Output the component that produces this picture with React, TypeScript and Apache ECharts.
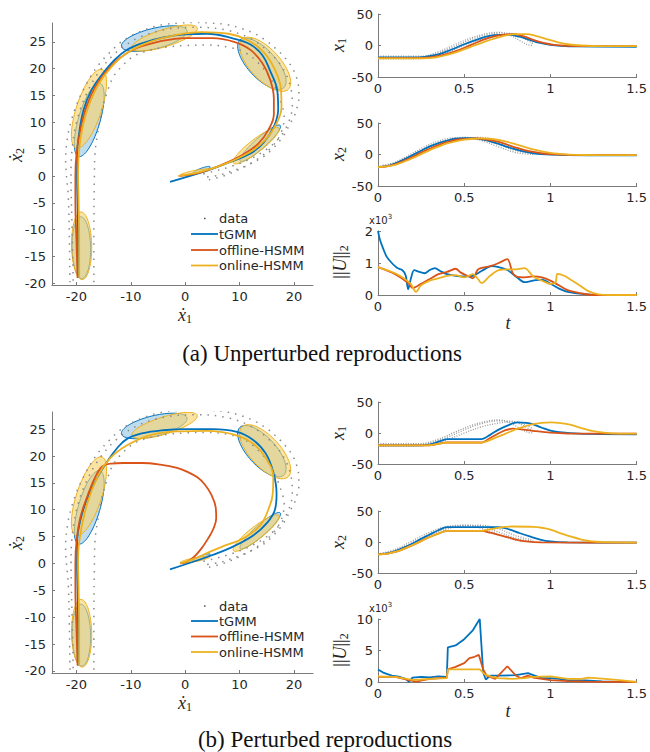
import React, { useEffect, useRef } from "react";
import * as echarts from "echarts";

// ---------------- Data ----------------
// Ellipses (GMM components): [cx, cy, semiMajor, semiMinor, angleDeg]
const ellipsesTGMM: number[][] = [
  [-19.1, -13.35, 5.75, 1.7, 91],
  [-17.65, 10.45, 7.1, 2.0, 74],
  [-5.7, 25.6, 6.2, 1.9, 14],
  [14.1, 20.9, 6.0, 2.6, -48],
  [13.8, 6.1, 4.95, 1.0, 42],
  [3.0, 1.1, 1.7, 0.35, 21],
];
const ellipsesHSMM: number[][] = [
  [-19.05, -13.0, 6.3, 1.85, 91],
  [-17.7, 12.5, 7.7, 2.3, 72],
  [-3.8, 25.7, 6.3, 1.6, 17.5],
  [14.7, 20.8, 6.3, 2.8, -48],
  [13.05, 5.65, 5.3, 1.2, 38],
  [1.85, 0.7, 2.8, 0.35, 11],
];

// Demonstrations (velocity space)
const demoOuter2D: number[][] = [
  [-21.2, -19.8], [-21.3, -12], [-21.5, -4], [-22.0, 3], [-21.6, 7.5], [-20.9, 10.5], [-19.9, 13.5],
  [-18.7, 16.1], [-17.3, 18.7], [-15.7, 21], [-13.9, 23], [-12, 24.8], [-10.2, 26], [-8.3, 26.9],
  [-5.8, 27.8], [-3.4, 28.3], [-1, 28.5], [1.5, 28.6], [4.5, 28.5], [7.7, 28.2], [10.3, 27.5],
  [12.6, 26.6], [14.9, 25.2], [16.9, 23.5], [18.6, 21.7], [19.9, 19.8], [20.6, 17.9], [20.9, 16.1],
  [20.9, 14.5], [20.6, 12.9], [20.1, 11.3], [19.3, 9.8], [18.5, 8.2], [17.5, 6.7], [16.1, 5.1],
  [14.4, 3.6], [12.6, 2.6], [10.7, 1.7], [8.5, 0.9], [6.4, 0.2], [4, -0.2],
];
const demoMid2D: number[][] = [
  [-20.6, -19.5], [-20.8, -10], [-21, 0], [-20.8, 5], [-20, 10], [-18.3, 15], [-15.8, 19.5],
  [-12.5, 23.2], [-8.5, 25.8], [-3.5, 27.3], [2, 27.7], [7.5, 27.2], [12, 25.6], [15.5, 23],
  [18, 20], [19.4, 16.5], [19.7, 13], [19, 10], [17.4, 7.2], [15, 5], [12, 3.2], [8.5, 1.8],
  [5, 0.8], [2.5, 0.2],
];
const demoInner2D: number[][] = [
  [-16.8, -19.8], [-16.8, -10], [-16.7, 0], [-16.6, 4.2], [-16.1, 8], [-15.3, 12.3], [-14.4, 15.5],
  [-13.2, 18.5], [-11.5, 20.6], [-9.5, 22.3], [-7, 23.3], [-3.5, 24], [0, 24.3], [4, 24.4], [8, 24],
  [11, 23], [13.5, 21], [15.8, 18], [17.5, 14], [18.2, 11], [17.6, 8], [16, 5.5], [13.5, 3.3],
  [10.5, 1.5], [7, 0], [4, -0.8],
];

// Reproductions, unperturbed (a)
const tgmmA2D: number[][] = [
  [-19.7, -19], [-19.7, -12], [-19.8, -5], [-19.9, 0], [-19.9, 3.6], [-19.6, 7.3], [-18.7, 12.3],
  [-17.2, 16.1], [-15.3, 18.9], [-12.9, 21.7], [-10.7, 23.5], [-8, 24.7], [-4, 25.8], [0, 26.4],
  [4, 26.5], [8.9, 25.6], [12, 24.5], [14.2, 22.5], [15.7, 19.4], [16.9, 16.1], [17.1, 12.5],
  [16.3, 9.2], [14.4, 6.2], [12, 4.2], [7.7, 2.4], [3.4, 0.8], [-2.8, -1.1],
];
const offlineA2D: number[][] = [
  [-19.8, -19], [-20, -12], [-20.2, -5], [-20.2, 0], [-20, 4], [-19.3, 8.5], [-18.2, 12.8],
  [-16.6, 16.5], [-14.5, 19.5], [-12, 22], [-9, 23.8], [-5, 25], [0, 25.7], [5, 25.7], [9, 25],
  [12, 23.5], [14.2, 21], [15.6, 18], [16.3, 14.5], [16.3, 11.5], [15.3, 8.6], [13.4, 6],
  [10.5, 3.9], [6.5, 2], [2.5, 0.6], [-1.2, 0],
];
const onlineA2D: number[][] = [
  [-19.5, -19], [-19.5, -12], [-19.6, -5], [-19.7, 0], [-19.5, 5], [-18.8, 9.5], [-17.6, 13.5],
  [-15.9, 17.2], [-13.6, 20.3], [-10.6, 23], [-6.5, 25], [-2, 26.2], [3, 26.8], [8, 26.5],
  [11.5, 25.3], [14.5, 23], [16.5, 19.8], [17.6, 16.2], [17.7, 12.8], [16.7, 9.6], [14.8, 6.8],
  [12, 4.5], [7.5, 2.3], [3, 0.8], [-1.2, 0],
];

// Reproductions, perturbed (b)
const tgmmB2D: number[][] = [
  [-19.7, -19], [-19.7, -12], [-19.8, -5], [-19.9, 0], [-19.9, 3.6], [-19.3, 8], [-17.8, 12.7],
  [-16, 16.3], [-14.4, 18.9], [-12.5, 21.5], [-10.7, 23.2], [-8, 24.2], [-4, 24.8], [0, 25],
  [5, 25], [9.5, 24.5], [12.5, 23], [14.8, 20.5], [16.2, 17], [16.8, 13], [16.5, 10], [15, 7.5],
  [12.5, 5.2], [8.5, 3], [4, 1.2], [-2.8, -1.1],
];
const offlineB2D: number[][] = [
  [-19.8, -19], [-20, -12], [-20.2, -5], [-20.2, 0], [-20, 4], [-19.3, 8.5], [-18, 12.5],
  [-16.5, 16.2], [-15.2, 18.1], [-13.5, 18.6], [-11.4, 18.7], [-8, 18.7], [-4.6, 18.4],
  [-1.5, 17.8], [0.5, 17], [2.3, 16], [3.6, 14.7], [4.8, 12.8], [5.6, 10.5], [5.7, 8.4],
  [5.2, 6.5], [4.3, 4.8], [3.0, 2.8], [1.6, 1.2], [0.3, 0.3], [-0.9, 0],
];
const onlineB2D: number[][] = [
  [-19.5, -19], [-19.5, -12], [-19.6, -5], [-19.7, 0], [-19.5, 4], [-18.1, 10.9], [-16, 16.4],
  [-13.8, 19.6], [-10.7, 22], [-6.4, 23.9], [-0.9, 24.6], [4, 24.7], [9, 24], [12.5, 22.3],
  [14.9, 19.5], [16.2, 16], [16.1, 13], [15.6, 10.9], [13.8, 7.1], [10.7, 4.7], [7.5, 3.4],
  [4.6, 2.2], [1.5, 0.8], [-0.9, 0],
];

// Time series demonstrations
const demoX1: number[][][] = [
  [[0, -17], [0.15, -17], [0.25, -17], [0.35, -10], [0.45, 2], [0.55, 13], [0.65, 20], [0.7, 21], [0.76, 17], [0.82, 8], [0.87, 1], [0.9, 0]],
  [[0, -19], [0.2, -19], [0.3, -16], [0.4, -7], [0.5, 5], [0.6, 15], [0.7, 19.5], [0.78, 19], [0.84, 12], [0.9, 3]],
  [[0, -21], [0.2, -21], [0.3, -19], [0.4, -11], [0.5, 0], [0.6, 10], [0.7, 16], [0.78, 18], [0.85, 14], [0.9, 6]],
];
const demoX2: number[][][] = [
  [[0, -19], [0.1, -12], [0.2, 2], [0.3, 16], [0.4, 25], [0.5, 27], [0.6, 22], [0.7, 12], [0.8, 3], [0.9, 0]],
  [[0, -20], [0.1, -14], [0.2, -1], [0.3, 13], [0.4, 23], [0.5, 27], [0.6, 25], [0.7, 16], [0.8, 6], [0.9, 1]],
  [[0, -21], [0.1, -16], [0.2, -4], [0.3, 10], [0.4, 21], [0.5, 26], [0.6, 27], [0.7, 21], [0.8, 10], [0.9, 3]],
];

// (a) time series
const tgmmAx1 = [[0, -19], [0.1, -19], [0.2, -19], [0.27, -18], [0.35, -14], [0.43, -6], [0.5, 2], [0.57, 9], [0.64, 15], [0.7, 17], [0.76, 17], [0.82, 14], [0.88, 9], [0.94, 4], [1.0, 1], [1.06, -0.5], [1.15, -1.5], [1.5, -2]];
const offlineAx1 = [[0, -20], [0.2, -20], [0.3, -19], [0.38, -15], [0.46, -8], [0.54, 1], [0.62, 10], [0.7, 16], [0.78, 18], [0.84, 15], [0.9, 9], [0.96, 4], [1.02, 1], [1.1, -0.5], [1.2, -1], [1.5, -1]];
const onlineAx1 = [[0, -20.5], [0.2, -20.5], [0.3, -20], [0.4, -15], [0.48, -8], [0.56, 0], [0.64, 8], [0.72, 14.5], [0.8, 18], [0.86, 18], [0.92, 15], [0.98, 10], [1.04, 5.5], [1.1, 2], [1.18, 0], [1.3, -1], [1.5, -1]];
const tgmmAx2 = [[0, -20], [0.05, -18.5], [0.1, -14], [0.15, -8], [0.2, -1], [0.25, 6], [0.3, 13], [0.35, 18], [0.4, 22], [0.45, 25], [0.5, 26], [0.55, 26], [0.6, 24], [0.65, 21], [0.7, 17], [0.75, 12], [0.8, 8], [0.85, 4.5], [0.9, 2], [0.95, 0.5], [1.0, -0.3], [1.1, -1], [1.5, -1.5]];
const offlineAx2 = [[0, -20], [0.05, -19], [0.1, -15.5], [0.15, -10], [0.2, -4], [0.25, 3], [0.3, 9], [0.35, 15], [0.4, 19.5], [0.45, 23], [0.5, 24.5], [0.55, 25.5], [0.6, 25], [0.65, 23], [0.7, 20], [0.75, 15.5], [0.8, 11], [0.85, 7], [0.9, 4], [0.95, 2], [1.0, 0.5], [1.1, -0.5], [1.5, -1]];
const onlineAx2 = [[0, -20], [0.05, -19], [0.1, -16.5], [0.15, -11.5], [0.2, -6], [0.25, 0.5], [0.3, 7], [0.35, 12.5], [0.4, 17.5], [0.45, 21], [0.5, 23.5], [0.55, 25], [0.6, 25.5], [0.65, 25], [0.7, 23], [0.75, 20], [0.8, 16], [0.85, 12], [0.9, 8], [0.95, 5], [1.0, 2.5], [1.05, 1], [1.1, 0], [1.2, -0.8], [1.5, -1]];
const tgmmAU = [[0, 2.0], [0.01, 1.75], [0.03, 1.45], [0.05, 1.2], [0.08, 1.0], [0.11, 0.85], [0.14, 0.78], [0.16, 0.62], [0.175, 0.18], [0.19, 0.5], [0.21, 0.78], [0.24, 0.72], [0.27, 0.68], [0.3, 0.78], [0.33, 0.84], [0.36, 0.75], [0.4, 0.65], [0.45, 0.6], [0.5, 0.58], [0.55, 0.6], [0.6, 0.75], [0.66, 0.9], [0.7, 0.87], [0.75, 0.78], [0.8, 0.58], [0.85, 0.4], [0.9, 0.45], [0.95, 0.48], [1.0, 0.35], [1.05, 0.2], [1.1, 0.1], [1.2, 0.03], [1.3, 0], [1.5, 0]];
const offlineAU = [[0, 0.87], [0.1, 0.65], [0.18, 0.35], [0.2, 0.22], [0.25, 0.35], [0.3, 0.5], [0.35, 0.65], [0.4, 0.72], [0.45, 0.82], [0.48, 0.7], [0.52, 0.6], [0.55, 0.52], [0.58, 0.8], [0.65, 0.9], [0.7, 1.0], [0.75, 1.12], [0.78, 0.7], [0.8, 0.58], [0.85, 0.55], [0.9, 0.58], [0.95, 0.55], [1.0, 0.45], [1.05, 0.3], [1.1, 0.15], [1.18, 0.05], [1.25, 0], [1.5, 0]];
const onlineAU = [[0, 0.87], [0.05, 0.78], [0.1, 0.68], [0.15, 0.52], [0.19, 0.35], [0.22, 0.1], [0.25, 0.3], [0.3, 0.45], [0.35, 0.52], [0.4, 0.6], [0.45, 0.62], [0.5, 0.55], [0.55, 0.65], [0.58, 0.5], [0.6, 0.37], [0.65, 0.6], [0.7, 0.78], [0.75, 0.8], [0.8, 0.8], [0.85, 0.84], [0.9, 0.58], [0.95, 0.45], [1.0, 0.35], [1.03, 0.4], [1.04, 0.66], [1.08, 0.6], [1.12, 0.47], [1.17, 0.3], [1.22, 0.12], [1.28, 0.02], [1.35, 0], [1.5, 0]];

// (b) time series
const tgmmBx1 = [[0, -20], [0.25, -20], [0.3, -18.5], [0.35, -14], [0.4, -10], [0.6, -10], [0.65, -3], [0.7, 5.5], [0.75, 12], [0.81, 17], [0.86, 16.5], [0.9, 14], [0.95, 8.5], [1.0, 3.7], [1.05, 1.2], [1.1, 0], [1.2, -1.5], [1.5, -2]];
const offlineBx1 = [[0, -20], [0.28, -20], [0.34, -18], [0.4, -15.3], [0.6, -15.3], [0.65, -8], [0.7, -0.5], [0.74, 4.5], [0.78, 7], [0.83, 6], [0.9, 3.5], [1.0, 0.5], [1.1, -0.8], [1.5, -1]];
const onlineBx1 = [[0, -20], [0.28, -20], [0.34, -18], [0.4, -15.5], [0.6, -15.5], [0.67, -9], [0.74, -1], [0.81, 7], [0.9, 14.5], [1.0, 17], [1.06, 16], [1.12, 13], [1.18, 8], [1.24, 3.5], [1.31, 0.5], [1.4, -1], [1.5, -1]];
const tgmmBx2 = [[0, -20], [0.05, -18.5], [0.1, -14.5], [0.15, -9], [0.2, -2.5], [0.25, 5], [0.3, 12], [0.35, 19], [0.4, 24], [0.7, 24], [0.76, 20.5], [0.82, 14.5], [0.88, 9], [0.94, 4], [1.0, 1], [1.1, -0.5], [1.5, -1]];
const offlineBx2 = [[0, -20], [0.05, -19], [0.1, -16], [0.15, -11], [0.2, -5], [0.25, 1.5], [0.3, 8], [0.35, 13.5], [0.4, 18], [0.6, 18], [0.65, 15], [0.7, 11.5], [0.75, 8], [0.8, 4], [0.86, 1], [0.95, -0.5], [1.5, -1]];
const onlineBx2 = [[0, -20], [0.05, -19], [0.1, -16], [0.15, -11], [0.2, -5], [0.25, 1.5], [0.3, 8], [0.35, 13.5], [0.4, 18], [0.6, 18], [0.66, 21], [0.72, 24], [0.78, 25], [0.9, 24.5], [0.95, 23], [1.0, 20], [1.06, 14], [1.12, 8.5], [1.18, 4], [1.24, 1], [1.3, 0], [1.5, -1]];
const tgmmBU = [[0, 2.0], [0.03, 1.5], [0.08, 1.0], [0.12, 0.85], [0.16, 0.5], [0.18, 0.05], [0.2, 0.7], [0.25, 0.8], [0.3, 0.75], [0.35, 0.9], [0.399, 0.8], [0.405, 5.5], [0.45, 5.8], [0.5, 6.8], [0.55, 8.2], [0.59, 10], [0.61, 1.5], [0.625, 0.4], [0.65, 1.0], [0.7, 1.0], [0.8, 1.1], [0.87, 1.4], [0.9, 1.1], [0.95, 0.6], [1.0, 0.6], [1.05, 0.5], [1.1, 0.3], [1.2, 0.25], [1.3, 0.1], [1.4, 0.02], [1.5, 0]];
const offlineBU = [[0, 0.8], [0.1, 0.8], [0.18, 0.3], [0.22, 0.05], [0.3, 0.5], [0.399, 0.7], [0.405, 2.0], [0.45, 2.4], [0.5, 3.0], [0.53, 3.8], [0.56, 4.0], [0.585, 4.3], [0.61, 2.0], [0.63, 1.0], [0.68, 0.5], [0.75, 2.5], [0.8, 1.0], [0.83, 0.6], [0.87, 1.0], [0.9, 0.7], [1.0, 0.3], [1.1, 0.15], [1.2, 0.05], [1.5, 0]];
const onlineBU = [[0, 0.9], [0.1, 0.8], [0.2, 0.35], [0.25, 0.4], [0.3, 0.5], [0.399, 0.6], [0.405, 2.0], [0.59, 2.0], [0.62, 1.2], [0.66, 0.8], [0.7, 0.6], [0.78, 0.5], [0.85, 0.6], [0.9, 0.8], [1.0, 0.9], [1.05, 0.7], [1.1, 0.5], [1.18, 0.5], [1.22, 0.7], [1.3, 0.55], [1.4, 0.3], [1.5, 0]];

// Tick labels
const vel1Ticks = [-20, -10, 0, 10, 20];
const vel2Ticks = [-20, -15, -10, -5, 0, 5, 10, 15, 20, 25];
const legendNames = ["data", "tGMM", "offline-HSMM", "online-HSMM"];
const captions = ["(a) Unperturbed reproductions", "(b) Perturbed reproductions"];

// ---------------- Styling ----------------
const BLUE = "#0072BD";
const ORANGE = "#D95319";
const YELLOW = "#EDB120";
const AXIS = "#7a7a7a";
const TXT = "#262626";
const SANS = '"DejaVu Sans", sans-serif';
const SERIF = '"Liberation Serif", "DejaVu Serif", serif';

function ellipseSeries(gi: number, list: number[][], fill: string, stroke: string) {
  return {
    type: "custom",
    xAxisIndex: gi,
    yAxisIndex: gi,
    coordinateSystem: "cartesian2d",
    silent: true,
    clip: true,
    data: list,
    encode: { x: 0, y: 1 },
    renderItem: (_p: any, api: any) => {
      const cx = api.value(0), cy = api.value(1), a = api.value(2), b = api.value(3);
      const ang = (api.value(4) * Math.PI) / 180;
      const pts: number[][] = [];
      const N = 80;
      for (let k = 0; k < N; k++) {
        const t = (2 * Math.PI * k) / N;
        const x = cx + a * Math.cos(t) * Math.cos(ang) - b * Math.sin(t) * Math.sin(ang);
        const y = cy + a * Math.cos(t) * Math.sin(ang) + b * Math.sin(t) * Math.cos(ang);
        pts.push(api.coord([x, y]));
      }
      return { type: "polygon", shape: { points: pts }, style: { fill, stroke, lineWidth: 1 } };
    },
  };
}

function lineSeries(gi: number, data: number[][], color: string, smooth: number | boolean = 0.3, width = 1.8) {
  return {
    type: "line",
    xAxisIndex: gi,
    yAxisIndex: gi,
    data,
    showSymbol: false,
    symbol: "none",
    smooth,
    silent: true,
    clip: true,
    lineStyle: { color, width },
  };
}

function dotSeries(gi: number, data: number[][], dash: number[], width: number, color: string) {
  return {
    type: "line",
    xAxisIndex: gi,
    yAxisIndex: gi,
    data,
    showSymbol: false,
    symbol: "none",
    smooth: 0.35,
    silent: true,
    clip: true,
    lineStyle: { color, width, type: dash, cap: "butt" },
  };
}

const baseAxis = {
  type: "value",
  axisLine: { show: true, onZero: false, lineStyle: { color: AXIS, width: 1 } },
  axisTick: { show: true, inside: true, length: 3, lineStyle: { color: AXIS, width: 1 } },
  splitLine: { show: false },
  axisLabel: { color: TXT, fontSize: 13, fontFamily: SANS, margin: 5, showMinLabel: true, showMaxLabel: true },
};

function buildOption() {
  const grids = [
    { left: 52, top: 23, width: 261, height: 262 },
    { left: 378, top: 14, width: 261, height: 63 },
    { left: 378, top: 123, width: 261, height: 63 },
    { left: 378, top: 231, width: 261, height: 64 },
    { left: 52, top: 412, width: 261, height: 261 },
    { left: 378, top: 402, width: 261, height: 62 },
    { left: 378, top: 511, width: 261, height: 62 },
    { left: 378, top: 619, width: 261, height: 63 },
  ];
  const xAxis: any[] = [];
  const yAxis: any[] = [];
  const leftY = [
    [-20.3, 28.5],
    [-20.4, 28.2],
  ];
  grids.forEach((_, gi) => {
    const isLeft = gi === 0 || gi === 4;
    if (isLeft) {
      const yr = leftY[gi === 0 ? 0 : 1];
      xAxis.push({
        ...baseAxis, gridIndex: gi, min: -24.5, max: 23.5,
        axisLabel: { ...baseAxis.axisLabel, customValues: vel1Ticks },
        axisTick: { ...baseAxis.axisTick, customValues: vel1Ticks },
      });
      yAxis.push({
        ...baseAxis, gridIndex: gi, min: yr[0], max: yr[1],
        axisLabel: { ...baseAxis.axisLabel, margin: 6, customValues: vel2Ticks },
        axisTick: { ...baseAxis.axisTick, customValues: vel2Ticks },
      });
    } else {
      xAxis.push({ ...baseAxis, gridIndex: gi, min: 0, max: 1.5, interval: 0.5 });
      const yr = gi === 3 ? [0, 2, 1] : gi === 7 ? [0, 10, 5] : [-50, 50, 50];
      yAxis.push({ ...baseAxis, gridIndex: gi, min: yr[0], max: yr[1], interval: yr[2] });
    }
  });

  const series: any[] = [];
  const demoColor = "#8a8a8a";
  // Left plots
  const leftSets = [
    { gi: 0, t: tgmmA2D, off: offlineA2D, on: onlineA2D },
    { gi: 4, t: tgmmB2D, off: offlineB2D, on: onlineB2D },
  ];
  leftSets.forEach((s) => {
    series.push(ellipseSeries(s.gi, ellipsesTGMM, "rgba(0,114,189,0.25)", BLUE));
    series.push(ellipseSeries(s.gi, ellipsesHSMM, "rgba(248,212,107,0.62)", YELLOW));
    [demoOuter2D, demoMid2D, demoInner2D].forEach((d) =>
      series.push(dotSeries(s.gi, d, [1.5, 6], 1.5, demoColor))
    );
    series.push(lineSeries(s.gi, s.t, BLUE, 0.4, 1.8));
    series.push(lineSeries(s.gi, s.off, ORANGE, 0.4, 1.8));
    series.push(lineSeries(s.gi, s.on, YELLOW, 0.4, 1.8));
  });

  // Right plots
  const rightSets = [
    { gi: 1, demo: demoX1, t: tgmmAx1, off: offlineAx1, on: onlineAx1, sm: 0.4 as number | boolean },
    { gi: 2, demo: demoX2, t: tgmmAx2, off: offlineAx2, on: onlineAx2, sm: 0.4 },
    { gi: 3, demo: [], t: tgmmAU, off: offlineAU, on: onlineAU, sm: 0.3 },
    { gi: 5, demo: demoX1, t: tgmmBx1, off: offlineBx1, on: onlineBx1, sm: 0.3 },
    { gi: 6, demo: demoX2, t: tgmmBx2, off: offlineBx2, on: onlineBx2, sm: 0.3 },
    { gi: 7, demo: [], t: tgmmBU, off: offlineBU, on: onlineBU, sm: false },
  ];
  rightSets.forEach((s) => {
    s.demo.forEach((d: number[][]) => series.push(dotSeries(s.gi, d, [1, 1.5], 1.3, "#9a9a9a")));
    series.push(lineSeries(s.gi, s.t, BLUE, s.sm, 1.8));
    series.push(lineSeries(s.gi, s.off, ORANGE, s.sm, 1.8));
    series.push(lineSeries(s.gi, s.on, YELLOW, s.sm, 1.8));
  });

  // Graphic: axis names, legends, captions
  const graphic: any[] = [];
  const velLabel = (x: number, y: number, idx: string, rot: boolean) => ({
    type: "text",
    x, y,
    rotation: rot ? Math.PI / 2 : 0,
    silent: true,
    style: {
      text: `{v|ẋ}{s|${idx}}`,
      align: "center",
      verticalAlign: "middle",
      rich: {
        v: { fontFamily: SERIF, fontStyle: "italic", fontSize: 18, fill: TXT },
        s: { fontFamily: SERIF, fontSize: 12, fill: TXT, verticalAlign: "bottom", padding: [8, 0, 0, 0] },
      },
    },
  });
  const posLabel = (x: number, y: number, idx: string) => ({
    type: "text",
    x, y,
    rotation: Math.PI / 2,
    silent: true,
    style: {
      text: `{v|x}{s|${idx}}`,
      align: "center",
      verticalAlign: "middle",
      rich: {
        v: { fontFamily: SERIF, fontStyle: "italic", fontSize: 18, fill: TXT },
        s: { fontFamily: SERIF, fontSize: 12, fill: TXT, padding: [8, 0, 0, 0] },
      },
    },
  });
  const uLabel = (x: number, y: number) => ({
    type: "text",
    x, y,
    rotation: Math.PI / 2,
    silent: true,
    style: {
      text: `{b|||}{v|U}{b|||}{s|2}`,
      align: "center",
      verticalAlign: "middle",
      rich: {
        b: { fontFamily: SERIF, fontSize: 18, fill: TXT },
        v: { fontFamily: SERIF, fontStyle: "italic", fontSize: 18, fill: TXT },
        s: { fontFamily: SERIF, fontSize: 12, fill: TXT, padding: [8, 0, 0, 0] },
      },
    },
  });
  const tLabel = (x: number, y: number) => ({
    type: "text", x, y, silent: true,
    style: { text: "t", fontFamily: SERIF, fontStyle: "italic", fontSize: 18, fill: TXT, align: "center", verticalAlign: "middle" },
  });
  const expLabel = (x: number, y: number) => ({
    type: "text", x, y, silent: true,
    style: {
      text: "{a|x10}{e|3}",
      align: "left",
      verticalAlign: "middle",
      rich: {
        a: { fontFamily: SANS, fontSize: 10, fill: TXT },
        e: { fontFamily: SANS, fontSize: 7, fill: TXT, padding: [0, 0, 6, 0] },
      },
    },
  });

  // panel (a)
  graphic.push(velLabel(16, 155, "2", true));
  graphic.push(velLabel(185, 315, "1", false));
  graphic.push(posLabel(338, 45, "1"));
  graphic.push(posLabel(338, 154, "2"));
  graphic.push(uLabel(340, 262));
  graphic.push(tLabel(508, 323));
  graphic.push(expLabel(369, 220));
  // panel (b)
  graphic.push(velLabel(16, 543, "2", true));
  graphic.push(velLabel(185, 703, "1", false));
  graphic.push(posLabel(338, 433, "1"));
  graphic.push(posLabel(338, 542, "2"));
  graphic.push(uLabel(340, 650));
  graphic.push(tLabel(508, 711));
  graphic.push(expLabel(369, 608));

  const legend = (rows: number[]) => {
    const colors = [null, BLUE, ORANGE, YELLOW];
    rows.forEach((y, i) => {
      if (i === 0) {
        graphic.push({ type: "rect", silent: true, shape: { x: 204, y: y - 0.8, width: 1.6, height: 1.6 }, style: { fill: "#555" } });
      } else {
        graphic.push({ type: "line", silent: true, shape: { x1: 191, y1: y, x2: 218, y2: y }, style: { stroke: colors[i] as string, lineWidth: 1.8 } });
      }
      graphic.push({
        type: "text", silent: true, x: 219, y,
        style: { text: legendNames[i], fontFamily: SANS, fontSize: 13, fill: TXT, align: "left", verticalAlign: "middle" },
      });
    });
  };
  legend([218.5, 234, 250, 265.5]);
  legend([606, 621, 636.5, 652]);

  graphic.push({
    type: "text", silent: true, x: 322, y: 353,
    style: { text: captions[0], fontFamily: SERIF, fontSize: 23, fill: "#111", align: "center", verticalAlign: "middle" },
  });
  graphic.push({
    type: "text", silent: true, x: 325, y: 739,
    style: { text: captions[1], fontFamily: SERIF, fontSize: 23, fill: "#111", align: "center", verticalAlign: "middle" },
  });

  return {
    animation: false,
    backgroundColor: "#ffffff",
    grid: grids.map((g) => ({ ...g, containLabel: false })),
    xAxis,
    yAxis,
    series,
    graphic,
  };
}

export default function App() {
  const ref = useRef<HTMLDivElement>(null);
  useEffect(() => {
    if (!ref.current) return;
    const chart = echarts.init(ref.current, null, { renderer: "svg" });
    chart.setOption(buildOption() as any);
    return () => chart.dispose();
  }, []);
  return (
    <div
      ref={ref}
      style={{ position: "fixed", left: 0, top: 0, width: 650, height: 752, background: "#fff" }}
    />
  );
}
